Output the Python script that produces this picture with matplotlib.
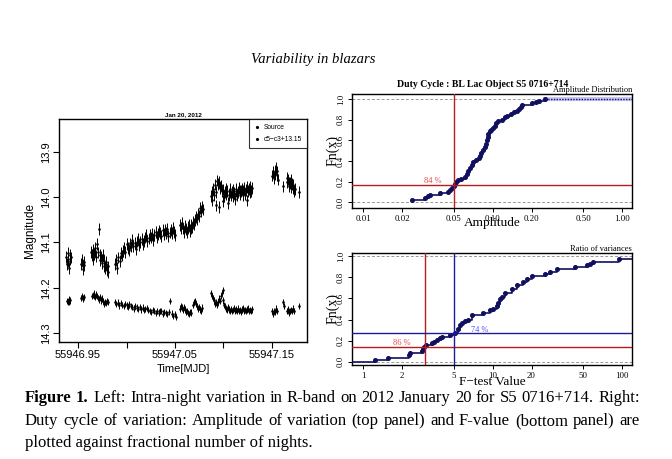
import numpy as np
import matplotlib
matplotlib.use("Agg")
import matplotlib.pyplot as plt
from matplotlib.ticker import FixedLocator, NullLocator
from matplotlib.lines import Line2D

# ---------------- light curve (left panel) ----------------
# source magnitudes
time_src = [
    # first short run
    55946.9380, 55946.9387, 55946.9394, 55946.9401, 55946.9408, 55946.9415, 55946.9422, 55946.9429,
    55946.9535, 55946.9541, 55946.9547, 55946.9553, 55946.9559, 55946.9565,
    55946.9638, 55946.9645, 55946.9652, 55946.9659, 55946.9666, 55946.9673, 55946.9680, 55946.9687,
    55946.9694, 55946.9701, 55946.9714, 55946.9722, 55946.9729, 55946.9736, 55946.9743, 55946.9750,
    55946.9757, 55946.9764, 55946.9771, 55946.9778, 55946.9785, 55946.9792, 55946.9799, 55946.9806,
    55946.9813,
    # long rising run
    55946.9880, 55946.9892, 55946.9904, 55946.9916, 55946.9928, 55946.9940, 55946.9952, 55946.9964,
    55946.9976, 55946.9988, 55947.0000, 55947.0012, 55947.0024, 55947.0036, 55947.0048, 55947.0060,
    55947.0072, 55947.0084, 55947.0096, 55947.0108, 55947.0120, 55947.0132, 55947.0144, 55947.0156,
    55947.0168, 55947.0180, 55947.0192, 55947.0204, 55947.0216, 55947.0228, 55947.0240, 55947.0252,
    55947.0264, 55947.0276, 55947.0288, 55947.0300, 55947.0312, 55947.0324, 55947.0336, 55947.0348,
    55947.0360, 55947.0372, 55947.0384, 55947.0396, 55947.0408, 55947.0420, 55947.0432, 55947.0444,
    55947.0456, 55947.0468, 55947.0480, 55947.0492, 55947.0504,
    55947.0550, 55947.0560, 55947.0570, 55947.0580, 55947.0590, 55947.0600, 55947.0610, 55947.0620,
    55947.0630, 55947.0640, 55947.0650, 55947.0660, 55947.0670, 55947.0680, 55947.0690, 55947.0700,
    55947.0710, 55947.0720, 55947.0730, 55947.0740, 55947.0750, 55947.0760, 55947.0770, 55947.0780,
    55947.0790,
    # bright plateau
    55947.0870, 55947.0878, 55947.0886, 55947.0894, 55947.0902, 55947.0910, 55947.0918, 55947.0926,
    55947.0934, 55947.0942, 55947.0950, 55947.0958, 55947.0966, 55947.0974, 55947.0982, 55947.0990,
    55947.0998, 55947.1006, 55947.1014, 55947.1022, 55947.1030, 55947.1038, 55947.1046, 55947.1054,
    55947.1062, 55947.1070, 55947.1078, 55947.1086, 55947.1094, 55947.1102, 55947.1110, 55947.1118,
    55947.1126, 55947.1134, 55947.1142, 55947.1150, 55947.1158, 55947.1166, 55947.1174, 55947.1182,
    55947.1190, 55947.1198, 55947.1206, 55947.1214, 55947.1222, 55947.1230, 55947.1238, 55947.1246,
    55947.1254, 55947.1262, 55947.1270, 55947.1278, 55947.1286, 55947.1294,
    # last runs
    55947.1505, 55947.1512, 55947.1519, 55947.1526, 55947.1533, 55947.1540, 55947.1547, 55947.1554,
    55947.1561, 55947.1610, 55947.1650, 55947.1657, 55947.1664, 55947.1671, 55947.1678, 55947.1685,
    55947.1692, 55947.1699, 55947.1706, 55947.1713, 55947.1720, 55947.1727, 55947.1734, 55947.1780,
]
mag_src = [
    14.132, 14.148, 14.124, 14.141, 14.156, 14.128, 14.137, 14.133,
    14.147, 14.139, 14.158, 14.151, 14.143, 14.149,
    14.121, 14.128, 14.117, 14.136, 14.126, 14.119, 14.112, 14.131,
    14.104, 14.122, 14.071, 14.127, 14.138, 14.131, 14.146, 14.139,
    14.128, 14.152, 14.141, 14.157, 14.148, 14.143, 14.161, 14.153,
    14.166,
    14.148, 14.139, 14.156, 14.133, 14.141, 14.124, 14.129, 14.118,
    14.113, 14.121, 14.104, 14.112, 14.116, 14.102, 14.109, 14.094,
    14.108, 14.101, 14.114, 14.098, 14.092, 14.106, 14.099, 14.093,
    14.104, 14.097, 14.089, 14.084, 14.096, 14.091, 14.083, 14.089,
    14.081, 14.095, 14.083, 14.076, 14.088, 14.081, 14.074, 14.079,
    14.086, 14.073, 14.081, 14.072, 14.079, 14.071, 14.085, 14.078,
    14.072, 14.079, 14.068, 14.077, 14.083,
    14.061, 14.068, 14.057, 14.069, 14.076, 14.063, 14.071, 14.078,
    14.066, 14.062, 14.074, 14.069, 14.061, 14.067, 14.054, 14.059,
    14.051, 14.044, 14.049, 14.036, 14.041, 14.024, 14.031, 14.021,
    14.027,
    13.998, 13.989, 14.006, 13.981, 13.996, 13.972, 13.988, 14.018,
    13.963, 13.971, 14.021, 13.966, 13.979, 13.974, 13.987, 14.008,
    13.983, 13.997, 13.988, 13.981, 13.994, 13.986, 14.012, 13.995,
    13.988, 13.982, 13.996, 13.989, 13.998, 13.983, 13.991, 14.004,
    13.987, 13.981, 13.995, 13.988, 13.979, 13.986, 13.994, 13.987,
    13.981, 13.995, 13.986, 13.979, 13.993, 13.984, 14.007, 13.978,
    13.986, 13.981, 13.988, 13.977, 13.986, 13.979,
    13.952, 13.944, 13.958, 13.941, 13.949, 13.936, 13.951, 13.943,
    13.961, 13.976, 13.958, 13.966, 13.961, 13.969, 13.976, 13.968,
    13.962, 13.978, 13.971, 13.979, 13.973, 13.986, 13.981, 13.989,
]
err_src = 0.013

# comparison stars c5 - c3 + 13.15
time_cmp = [
    55946.9382, 55946.9392, 55946.9402, 55946.9412, 55946.9422,
    55946.9535, 55946.9545, 55946.9555, 55946.9565,
    55946.9640, 55946.9650, 55946.9660, 55946.9670, 55946.9680, 55946.9690, 55946.9700, 55946.9710,
    55946.9720, 55946.9730, 55946.9740, 55946.9750, 55946.9760, 55946.9770, 55946.9780, 55946.9790,
    55946.9800, 55946.9810,
    55946.9880, 55946.9895, 55946.9910, 55946.9925, 55946.9940, 55946.9955, 55946.9970, 55946.9985,
    55947.0000, 55947.0015, 55947.0030, 55947.0045, 55947.0060, 55947.0075, 55947.0090, 55947.0105,
    55947.0120, 55947.0135, 55947.0150, 55947.0165, 55947.0180, 55947.0195, 55947.0210, 55947.0225,
    55947.0240, 55947.0255, 55947.0270, 55947.0285, 55947.0300, 55947.0315, 55947.0330, 55947.0345,
    55947.0360, 55947.0375, 55947.0390, 55947.0405, 55947.0420, 55947.0435, 55947.0450, 55947.0465,
    55947.0480, 55947.0495, 55947.0513,
    55947.0555, 55947.0565, 55947.0575, 55947.0585, 55947.0595, 55947.0605, 55947.0615, 55947.0625,
    55947.0635, 55947.0645, 55947.0655, 55947.0665, 55947.0690, 55947.0700, 55947.0710, 55947.0720,
    55947.0730, 55947.0740, 55947.0750, 55947.0760, 55947.0770, 55947.0780,
    55947.0870, 55947.0880, 55947.0890, 55947.0900, 55947.0910, 55947.0920, 55947.0930, 55947.0940,
    55947.0950, 55947.0960, 55947.0970, 55947.0980, 55947.0990, 55947.1000, 55947.1010, 55947.1020,
    55947.1030, 55947.1040, 55947.1050, 55947.1060, 55947.1070, 55947.1080, 55947.1090, 55947.1100,
    55947.1110, 55947.1120, 55947.1130, 55947.1140, 55947.1150, 55947.1160, 55947.1170, 55947.1180,
    55947.1190, 55947.1200, 55947.1210, 55947.1220, 55947.1230, 55947.1240, 55947.1250, 55947.1260,
    55947.1270, 55947.1280, 55947.1290,
    55947.1505, 55947.1515, 55947.1525, 55947.1535, 55947.1545, 55947.1555, 55947.1615, 55947.1620,
    55947.1655, 55947.1665, 55947.1675, 55947.1685, 55947.1695, 55947.1705, 55947.1715, 55947.1725,
    55947.1780,
]
mag_cmp = [
    14.229, 14.232, 14.226, 14.231, 14.228,
    14.222, 14.219, 14.224, 14.221,
    14.219, 14.216, 14.213, 14.218, 14.221, 14.215, 14.219, 14.223,
    14.226, 14.221, 14.228, 14.224, 14.229, 14.236, 14.231, 14.234,
    14.229, 14.232,
    14.232, 14.236, 14.233, 14.239, 14.234, 14.238, 14.241, 14.236,
    14.239, 14.242, 14.237, 14.241, 14.243, 14.246, 14.241, 14.244,
    14.247, 14.243, 14.248, 14.244, 14.249, 14.247, 14.245, 14.249,
    14.251, 14.254, 14.249, 14.252, 14.256, 14.251, 14.255, 14.252,
    14.251, 14.257, 14.253, 14.256, 14.258, 14.254, 14.229, 14.257,
    14.262, 14.258, 14.265,
    14.246, 14.241, 14.244, 14.249, 14.243, 14.248, 14.254, 14.251,
    14.256, 14.258, 14.253, 14.255, 14.238, 14.232, 14.229, 14.236,
    14.241, 14.247, 14.242, 14.248, 14.251, 14.244,
    14.212, 14.219, 14.223, 14.228, 14.236, 14.231, 14.238, 14.232,
    14.224, 14.229, 14.219, 14.211, 14.205, 14.228, 14.238, 14.241,
    14.247, 14.249, 14.243, 14.248, 14.251, 14.247, 14.252, 14.249,
    14.245, 14.251, 14.248, 14.252, 14.246, 14.251, 14.249, 14.253,
    14.248, 14.245, 14.251, 14.249, 14.252, 14.248, 14.246, 14.251,
    14.249, 14.252, 14.248,
    14.252, 14.258, 14.251, 14.254, 14.246, 14.252, 14.232, 14.241,
    14.251, 14.248, 14.255, 14.251, 14.249, 14.252, 14.246, 14.251,
    14.241,
]
err_cmp = 0.007

# ---------------- duty cycle ECDFs (right panels) ----------------
amp_values = [0.0238, 0.030, 0.0315, 0.033, 0.039, 0.045, 0.047, 0.049, 0.050, 0.051,
              0.052, 0.054, 0.057, 0.061, 0.063, 0.065, 0.067, 0.069, 0.071, 0.075,
              0.078, 0.080, 0.082, 0.085, 0.087, 0.089, 0.090, 0.092, 0.093, 0.095,
              0.097, 0.100, 0.104, 0.106, 0.110, 0.118, 0.125, 0.130, 0.140, 0.146,
              0.155, 0.160, 0.165, 0.168, 0.200, 0.215, 0.230, 0.254]
amp_fn = [0.019, 0.038, 0.058, 0.075, 0.090, 0.096, 0.115, 0.135, 0.155, 0.175,
          0.195, 0.212, 0.230, 0.245, 0.270, 0.300, 0.330, 0.360, 0.390, 0.410,
          0.425, 0.450, 0.480, 0.510, 0.540, 0.570, 0.600, 0.630, 0.660, 0.690,
          0.705, 0.720, 0.740, 0.765, 0.790, 0.800, 0.825, 0.840, 0.860, 0.875,
          0.890, 0.905, 0.925, 0.945, 0.960, 0.975, 0.985, 1.000]
amp_cut = 0.05
amp_cut_fn = 0.165

f_values = [1.24, 1.57, 2.28, 2.30, 2.84, 2.90, 2.95, 3.09, 3.39, 3.55,
            3.71, 3.90, 4.05, 4.70, 5.13, 5.40, 5.61, 5.80, 6.13, 6.50,
            6.91, 8.49, 9.56, 10.1, 10.8, 11.1, 11.5, 11.8, 12.5, 14.1,
            15.4, 17.3, 18.5, 20.1, 25.4, 27.8, 31.3, 43.4, 54.0, 57.0,
            60.1, 95.5]
f_fn = [0.020, 0.040, 0.060, 0.080, 0.100, 0.120, 0.140, 0.155, 0.175, 0.190,
        0.210, 0.225, 0.235, 0.255, 0.275, 0.310, 0.350, 0.370, 0.390, 0.400,
        0.440, 0.460, 0.490, 0.500, 0.530, 0.555, 0.590, 0.615, 0.650, 0.685,
        0.725, 0.755, 0.780, 0.810, 0.830, 0.850, 0.875, 0.900, 0.915, 0.930,
        0.946, 0.969]
f_cut_red, f_cut_red_fn = 3.0, 0.144
f_cut_blue, f_cut_blue_fn = 5.0, 0.27

W, H = 672, 459
fig = plt.figure(figsize=(W / 100, H / 100), dpi=100)
fig.patch.set_facecolor("white")

serif = "Liberation Serif"
sans = "Liberation Sans"
navy = "#10105e"
red = "#b81c1c"
blue = "#1c1c9a"


def px_axes(x0, y0, x1, y1):
    return fig.add_axes([x0 / W, 1 - y1 / H, (x1 - x0) / W, (y1 - y0) / H])


# ---- left: light curve ----
ax = px_axes(59, 119, 307, 342)
ax.errorbar(time_src, mag_src, yerr=err_src, fmt=".", ms=1.8, color="black",
            ecolor="black", elinewidth=0.7, capsize=0)
ax.errorbar(time_cmp, mag_cmp, yerr=err_cmp, fmt=".", ms=1.8, color="black",
            ecolor="black", elinewidth=0.7, capsize=0)
ax.set_xlim(55946.9304, 55947.1861)
ax.set_ylim(14.32, 13.827)
ax.xaxis.set_major_locator(FixedLocator([55946.95, 55947.00, 55947.05, 55947.10, 55947.15]))
ax.set_xticklabels(["55946.95", "", "55947.05", "", "55947.15"], family=sans, fontsize=8)
ax.yaxis.set_major_locator(FixedLocator([13.9, 14.0, 14.1, 14.2, 14.3]))
ax.set_yticklabels(["13.9", "14.0", "14.1", "14.2", "14.3"], family=sans, fontsize=8,
                   rotation=90, va="center")
ax.tick_params(direction="out", length=4, width=0.8, pad=2)
ax.set_xlabel("Time[MJD]", family=sans, fontsize=8, labelpad=3)
ax.set_ylabel("Magnitude", family=sans, fontsize=8.5, labelpad=3)
ax.set_title("Jan 20, 2012", family=sans, fontsize=4.5, weight="bold", pad=2)
for s in ax.spines.values():
    s.set_linewidth(1.0)
handles = [Line2D([], [], ls="none", marker=".", ms=2.5, color="black") for _ in range(2)]
leg = ax.legend(handles, ["Source", "c5\u2212c3+13.15"], loc="upper right", fontsize=4.8,
                frameon=True, fancybox=False, borderaxespad=0.0, handlelength=0.8,
                handletextpad=0.6, borderpad=0.8, labelspacing=0.7)
leg.get_frame().set_edgecolor("black")
leg.get_frame().set_linewidth(0.8)
for t in leg.get_texts():
    t.set_family(sans)


def ecdf_axes(ax, xs, fn, xlim, ylim, ticks, ticklabels):
    ax.set_xscale("log")
    ax.axhline(0, color="#999999", ls=(0, (3, 2)), lw=0.7)
    ax.axhline(1, color="#999999", ls=(0, (3, 2)), lw=0.7)
    ax.step(xs, fn, where="post", color=navy, lw=1.2, marker="o", ms=2.6,
            mfc=navy, mec=navy, zorder=4)
    ax.set_xlim(*xlim)
    ax.set_ylim(*ylim)
    ax.xaxis.set_major_locator(FixedLocator(ticks))
    ax.xaxis.set_minor_locator(NullLocator())
    ax.set_xticklabels(ticklabels, family=serif, fontsize=6.3)
    ax.yaxis.set_major_locator(FixedLocator([0, 0.2, 0.4, 0.6, 0.8, 1.0]))
    ax.set_yticklabels(["0.0", "0.2", "0.4", "0.6", "0.8", "1.0"], family=serif,
                       fontsize=6.3, rotation=90, va="center")
    ax.tick_params(direction="out", length=3, width=0.7, pad=2)
    for s in ax.spines.values():
        s.set_linewidth(1.0)
    ax.set_ylabel("Fn(x)", family=serif, fontsize=10)
    ax.yaxis.set_label_coords(-0.045, 0.5)


# ---- right top: amplitude distribution ----
ax1 = px_axes(352, 94, 632, 208)
xlim1 = (10 ** -2.085, 10 ** 0.077)
ecdf_axes(ax1, amp_values, amp_fn, xlim1, (-0.055, 1.05),
          [0.01, 0.02, 0.05, 0.10, 0.20, 0.50, 1.00],
          ["0.01", "0.02", "0.05", "0.10", "0.20", "0.50", "1.00"])
ax1.plot([amp_values[-1], xlim1[1]], [1, 1], color="#c8c8f4", lw=3, zorder=2)
ax1.plot([amp_values[-1], xlim1[1]], [1, 1], color=navy, lw=1, ls=(0, (1, 1)), zorder=3)
ax1.axvline(amp_cut, color=red, lw=1.0, zorder=5)
ax1.axhline(amp_cut_fn, color=red, lw=1.0, zorder=5)
ax1.text(0.0347, 0.205, "84 %", color="#e84848", family=serif, fontsize=6,
         ha="center", va="center")
ax1.set_xlabel("Amplitude", family=serif, fontsize=9.5)
ax1.xaxis.set_label_coords(0.5, -0.075)

# ---- right bottom: ratio of variances ----
ax2 = px_axes(352, 253, 632, 365)
xlim2 = (10 ** -0.085, 10 ** 2.077)
ecdf_axes(ax2, f_values, f_fn, xlim2, (-0.03, 1.03),
          [1, 2, 5, 10, 20, 50, 100],
          ["1", "2", "5", "10", "20", "50", "100"])
ax2.plot([xlim2[0], f_values[0]], [0, 0], color=navy, lw=1.2, zorder=4)
ax2.plot([f_values[-1], xlim2[1]], [f_fn[-1], f_fn[-1]], color=navy, lw=1.2, zorder=4)
ax2.axvline(f_cut_red, color=red, lw=1.0, zorder=5)
ax2.axhline(f_cut_red_fn, color=red, lw=1.0, zorder=5)
ax2.axvline(f_cut_blue, color=blue, lw=1.0, zorder=5)
ax2.axhline(f_cut_blue_fn, color=blue, lw=1.0, zorder=5)
ax2.text(1.99, 0.176, "86 %", color="#e84848", family=serif, fontsize=6,
         ha="center", va="center")
ax2.text(8.0, 0.30, "74 %", color="#5050f0", family=serif, fontsize=6,
         ha="center", va="center")
ax2.set_xlabel("F\u2212test Value", family=serif, fontsize=9.5)
ax2.xaxis.set_label_coords(0.5, -0.1)

# ---- page text ----
fig.text(483 / W, 1 - 85 / H, "Duty Cycle : BL Lac Object S5 0716+714", family=serif,
         weight="bold", fontsize=7, ha="center", va="center")
fig.text(632 / W, 1 - 90 / H, "Amplitude Distribution", family=serif, fontsize=6,
         ha="right", va="center")
fig.text(632 / W, 1 - 249 / H, "Ratio of variances", family=serif, fontsize=6,
         ha="right", va="center")
fig.text(313 / W, 1 - 60 / H, "Variability in blazars", family=serif, style="italic",
         fontsize=10.5, ha="center", va="center")

# caption, first two lines justified between x=25 and x=640
renderer = fig.canvas.get_renderer()
cap_size = 12.0


def justified(words, y, x0=25, x1=640):
    texts = []
    for w, bold in words:
        t = fig.text(0, 1 - y / H, w, family=serif, fontsize=cap_size,
                     weight="bold" if bold else "normal", va="baseline", ha="left")
        texts.append(t)
    widths = [t.get_window_extent(renderer).width for t in texts]
    gap = (x1 - x0 - sum(widths)) / (len(texts) - 1)
    x = x0
    for t, w in zip(texts, widths):
        t.set_x(x / W)
        x += w + gap


line1 = [("Figure", True), ("1.", True)] + [(w, False) for w in
         "Left: Intra-night variation in R-band on 2012 January 20 for S5 0716+714. Right:".split()]
line2 = [(w, False) for w in
         "Duty cycle of variation: Amplitude of variation (top panel) and F-value (bottom panel) are".split()]
justified(line1, 402)
justified(line2, 425)
fig.text(25 / W, 1 - 447 / H, "plotted against fractional number of nights.", family=serif,
         fontsize=cap_size, va="baseline", ha="left")

fig.savefig("out.png", dpi=100)
